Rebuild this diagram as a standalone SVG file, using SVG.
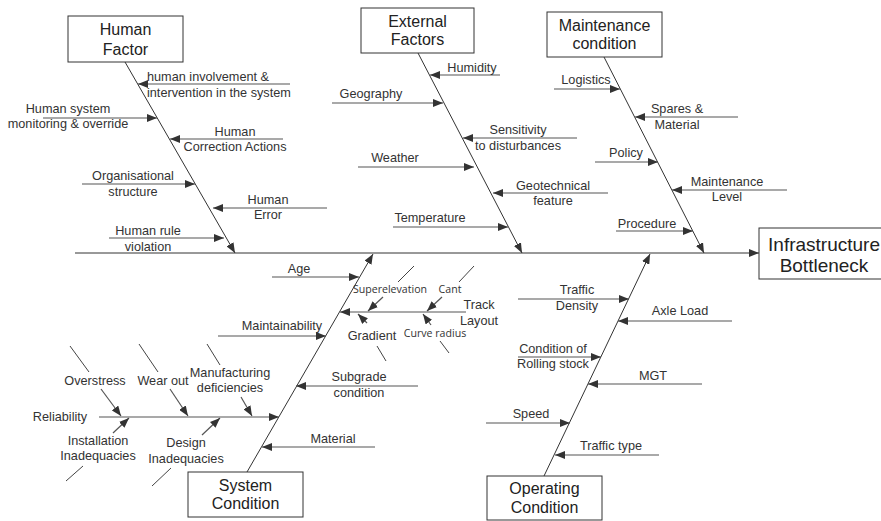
<svg xmlns="http://www.w3.org/2000/svg" width="881" height="521" viewBox="0 0 881 521">
<style>
.bg{fill:#fff}
.box{fill:#fff;stroke:#333;stroke-width:1}
.bt{font-family:"Liberation Sans",Arial,sans-serif;font-size:16px;fill:#222;text-anchor:middle}
.et{font-family:"Liberation Sans",Arial,sans-serif;font-size:19px;fill:#222;text-anchor:middle}
.lt{font-family:"Liberation Sans",Arial,sans-serif;font-size:12.7px;fill:#333;text-anchor:middle}
.st{text-anchor:start}
.ct{font-family:"Open Sans","Noto Sans",sans-serif;font-size:10.6px;fill:#333;text-anchor:middle}
.bone{stroke:#333;stroke-width:1;fill:none;marker-end:url(#ah)}
.sub{stroke:#555;stroke-width:1.2;fill:none;marker-end:url(#ah)}
.tick{stroke:#444;stroke-width:1;fill:none}
</style>
<defs>
<marker id="ah" markerUnits="userSpaceOnUse" markerWidth="11" markerHeight="8" refX="10" refY="4" orient="auto">
<path d="M0,0 L10,4 L0,8 z" fill="#333"/>
</marker>
</defs>
<rect class="bg" x="0" y="0" width="881" height="521"/>
<g id="connectors">
<line class="bone" x1="75" y1="253" x2="759" y2="253"/>
<line class="bone" x1="125" y1="62" x2="235" y2="253"/>
<line class="bone" x1="418" y1="53" x2="522" y2="253"/>
<line class="bone" x1="604" y1="57" x2="704" y2="253"/>
<line class="bone" x1="247" y1="472" x2="373" y2="254"/>
<line class="bone" x1="544" y1="476" x2="650" y2="254"/>
<line class="sub" x1="290" y1="84" x2="138" y2="84"/>
<line class="sub" x1="43" y1="118" x2="157" y2="118"/>
<line class="sub" x1="283" y1="139" x2="170" y2="139"/>
<line class="sub" x1="82" y1="184" x2="195" y2="184"/>
<line class="sub" x1="327" y1="208" x2="213" y2="208"/>
<line class="sub" x1="109" y1="238" x2="224" y2="238"/>
<line class="sub" x1="500" y1="75" x2="430" y2="75"/>
<line class="sub" x1="332" y1="103" x2="443" y2="103"/>
<line class="sub" x1="577" y1="138" x2="463" y2="138"/>
<line class="sub" x1="358" y1="167" x2="474" y2="167"/>
<line class="sub" x1="608" y1="193" x2="493" y2="193"/>
<line class="sub" x1="393" y1="227" x2="508" y2="227"/>
<line class="sub" x1="554" y1="89" x2="620" y2="89"/>
<line class="sub" x1="738" y1="117" x2="635" y2="117"/>
<line class="sub" x1="595" y1="162" x2="658" y2="162"/>
<line class="sub" x1="787" y1="190" x2="672" y2="190"/>
<line class="sub" x1="616" y1="231" x2="693" y2="231"/>
<line class="sub" x1="272" y1="277" x2="359" y2="277"/>
<line class="sub" x1="466" y1="312" x2="340" y2="312"/>
<line class="sub" x1="383" y1="297" x2="368" y2="311"/>
<line class="sub" x1="442" y1="297" x2="427" y2="311"/>
<line class="sub" x1="367" y1="323" x2="358" y2="314"/>
<line class="sub" x1="431" y1="325" x2="423" y2="314"/>
<line class="tick" x1="414" y1="266" x2="398" y2="282"/>
<line class="tick" x1="474" y1="266" x2="459" y2="282"/>
<line class="tick" x1="377" y1="346" x2="386" y2="361"/>
<line class="tick" x1="440" y1="341" x2="449" y2="353"/>
<line class="sub" x1="218" y1="336" x2="326" y2="336"/>
<line class="sub" x1="418" y1="386" x2="296" y2="386"/>
<line class="sub" x1="99" y1="417" x2="279" y2="417"/>
<line class="tick" x1="70" y1="346" x2="89" y2="372"/>
<line class="sub" x1="101" y1="389" x2="121" y2="416"/>
<line class="tick" x1="139" y1="344" x2="158" y2="372"/>
<line class="sub" x1="170" y1="389" x2="188" y2="416"/>
<line class="tick" x1="207" y1="344" x2="220" y2="365"/>
<line class="sub" x1="241" y1="397" x2="252" y2="416"/>
<line class="sub" x1="113" y1="433" x2="129" y2="418"/>
<line class="tick" x1="83" y1="466" x2="66" y2="481"/>
<line class="sub" x1="202" y1="435" x2="220" y2="418"/>
<line class="tick" x1="171" y1="468" x2="152" y2="486"/>
<line class="sub" x1="375" y1="447" x2="262" y2="447"/>
<line class="sub" x1="518" y1="299" x2="629" y2="299"/>
<line class="sub" x1="732" y1="321" x2="618" y2="321"/>
<line class="sub" x1="518" y1="357" x2="601" y2="357"/>
<line class="sub" x1="702" y1="384" x2="588" y2="384"/>
<line class="sub" x1="486" y1="423" x2="570" y2="423"/>
<line class="sub" x1="659" y1="455" x2="555" y2="455"/>
</g>
<g id="human-factor"><rect class="box" x="68" y="16" width="115" height="46"/><text class="bt" x="125.5" y="35">Human</text><text class="bt" x="125.5" y="55">Factor</text></g>
<g id="external-factors"><rect class="box" x="361" y="8" width="113" height="45"/><text class="bt" x="417.5" y="27">External</text><text class="bt" x="417.5" y="45">Factors</text></g>
<g id="maintenance-condition"><rect class="box" x="547" y="12" width="115" height="45"/><text class="bt" x="604.5" y="31">Maintenance</text><text class="bt" x="604.5" y="49">condition</text></g>
<g id="system-condition"><rect class="box" x="188" y="472" width="115" height="45"/><text class="bt" x="245.5" y="491">System</text><text class="bt" x="245.5" y="509">Condition</text></g>
<g id="operating-condition"><rect class="box" x="487" y="476" width="115" height="44"/><text class="bt" x="544.5" y="494">Operating</text><text class="bt" x="544.5" y="513">Condition</text></g>
<g id="infrastructure-bottleneck"><rect class="box" x="759" y="228" width="130" height="51"/><text class="et" x="824" y="251">Infrastructure</text><text class="et" x="824" y="272">Bottleneck</text></g>
<g id="hf-causes">
<g id="c-involvement"><text class="lt st" x="147" y="81">human involvement &amp;</text><text class="lt st" x="147" y="97">intervention in the system</text></g>
<g id="c-monitoring"><text class="lt" x="68" y="113">Human system</text><text class="lt" x="68" y="128">monitoring &amp; override</text></g>
<g id="c-correction"><text class="lt" x="235" y="136">Human</text><text class="lt" x="235" y="151">Correction Actions</text></g>
<g id="c-organisational"><text class="lt" x="133" y="180">Organisational</text><text class="lt" x="133" y="196">structure</text></g>
<g id="c-error"><text class="lt" x="268" y="204">Human</text><text class="lt" x="268" y="219">Error</text></g>
<g id="c-rule"><text class="lt" x="148" y="235">Human rule</text><text class="lt" x="148" y="251">violation</text></g>
</g>
<g id="ef-causes">
<g id="c-humidity"><text class="lt" x="472" y="72">Humidity</text></g>
<g id="c-geography"><text class="lt" x="371" y="98">Geography</text></g>
<g id="c-sensitivity"><text class="lt" x="518" y="134">Sensitivity</text><text class="lt" x="518" y="150">to disturbances</text></g>
<g id="c-weather"><text class="lt" x="395" y="162">Weather</text></g>
<g id="c-geotechnical"><text class="lt" x="553" y="190">Geotechnical</text><text class="lt" x="553" y="205">feature</text></g>
<g id="c-temperature"><text class="lt" x="430" y="222">Temperature</text></g>
</g>
<g id="mc-causes">
<g id="c-logistics"><text class="lt" x="586" y="84">Logistics</text></g>
<g id="c-spares"><text class="lt" x="677" y="113">Spares &amp;</text><text class="lt" x="677" y="129">Material</text></g>
<g id="c-policy"><text class="lt" x="626" y="157">Policy</text></g>
<g id="c-mlevel"><text class="lt" x="727" y="186">Maintenance</text><text class="lt" x="727" y="201">Level</text></g>
<g id="c-procedure"><text class="lt" x="647" y="228">Procedure</text></g>
</g>
<g id="sc-causes">
<g id="c-age"><text class="lt" x="299" y="273">Age</text></g>
<g id="c-track"><text class="lt" x="479" y="309">Track</text><text class="lt" x="479" y="325">Layout</text></g>
<g id="c-superelevation"><text class="ct" x="390" y="293">Superelevation</text></g>
<g id="c-cant"><text class="ct" x="450" y="293">Cant</text></g>
<g id="c-gradient"><text class="lt" x="372" y="340">Gradient</text></g>
<g id="c-curve"><text class="ct" x="435" y="337">Curve radius</text></g>
<g id="c-maintainability"><text class="lt" x="282" y="330">Maintainability</text></g>
<g id="c-subgrade"><text class="lt" x="359" y="381">Subgrade</text><text class="lt" x="359" y="397">condition</text></g>
<g id="c-reliability"><text class="lt" x="60" y="421">Reliability</text></g>
<g id="c-overstress"><text class="lt" x="95" y="385">Overstress</text></g>
<g id="c-wearout"><text class="lt" x="163" y="385">Wear out</text></g>
<g id="c-manufacturing"><text class="lt" x="230" y="377">Manufacturing</text><text class="lt" x="230" y="392">deficiencies</text></g>
<g id="c-installation"><text class="lt" x="98" y="445">Installation</text><text class="lt" x="98" y="460">Inadequacies</text></g>
<g id="c-design"><text class="lt" x="186" y="447">Design</text><text class="lt" x="186" y="463">Inadequacies</text></g>
<g id="c-material"><text class="lt" x="333" y="443">Material</text></g>
</g>
<g id="oc-causes">
<g id="c-density"><text class="lt" x="577" y="294">Traffic</text><text class="lt" x="577" y="310">Density</text></g>
<g id="c-axle"><text class="lt" x="680" y="315">Axle Load</text></g>
<g id="c-rolling"><text class="lt" x="553" y="353">Condition of</text><text class="lt" x="553" y="368">Rolling stock</text></g>
<g id="c-mgt"><text class="lt" x="653" y="380">MGT</text></g>
<g id="c-speed"><text class="lt" x="531" y="418">Speed</text></g>
<g id="c-traffictype"><text class="lt" x="611" y="450">Traffic type</text></g>
</g>
</svg>
